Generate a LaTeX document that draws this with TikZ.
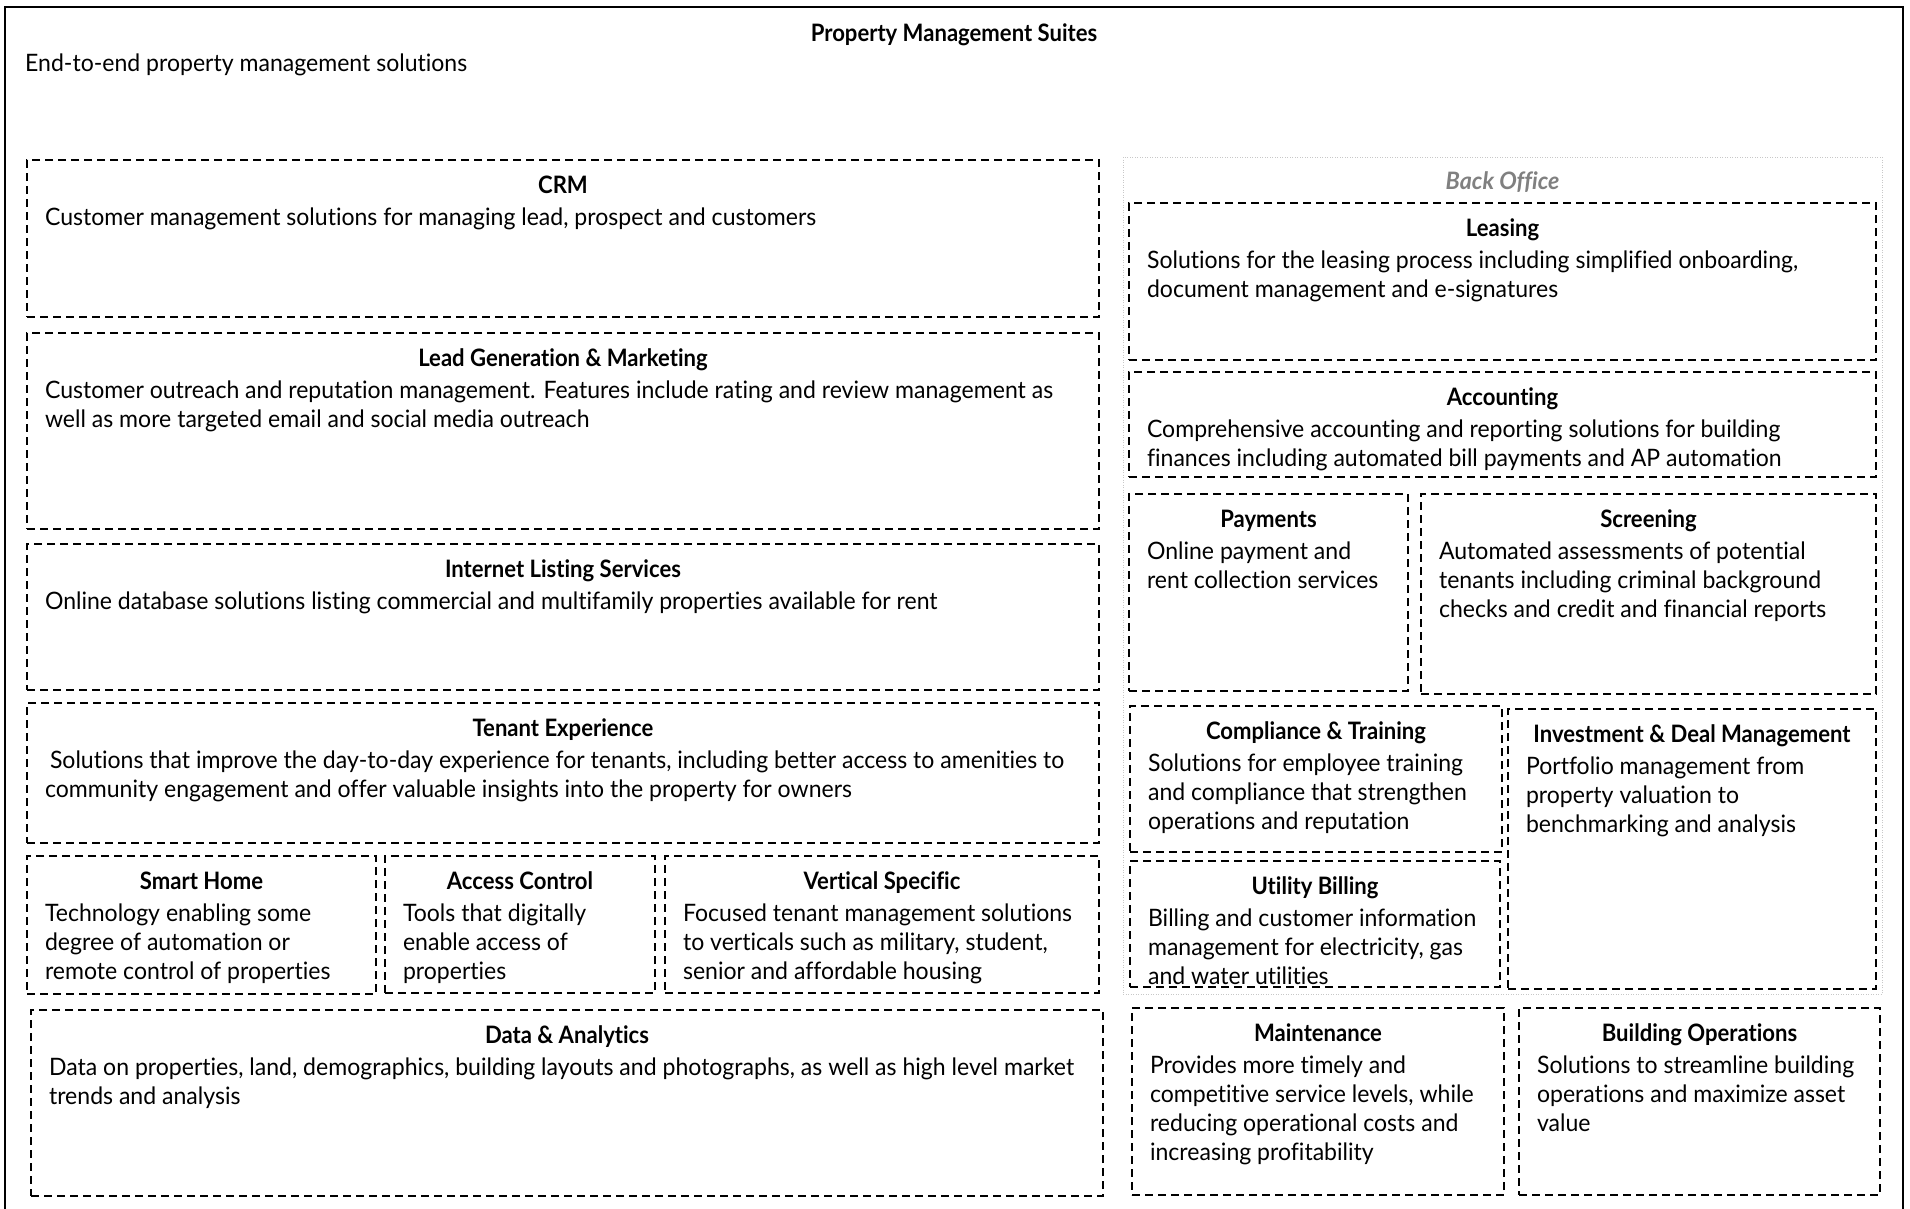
\documentclass[tikz,border=0pt]{standalone}
\usepackage{fontspec}
\setmainfont{Lato}[
  Ligatures=NoCommon,
  FakeStretch=0.96,
  BoldFeatures={FakeStretch=0.92},
  BoldItalicFeatures={FakeStretch=0.97}]
\usetikzlibrary{fit}

\definecolor{groupline}{HTML}{C8C8C8}
\definecolor{grouptext}{HTML}{808080}

\tikzset{
  frame/.style={draw=black, line width=2pt},
  group/.style={draw=groupline, line width=1pt, dash pattern=on 1pt off 1.5pt, inner sep=0pt},
  pbox/.style={draw=black, line width=2.3pt, dash pattern=on 8pt off 5pt, inner sep=0pt},
  ptitle/.style={anchor=base, inner sep=0pt, font=\bfseries\fontsize{24}{29}\selectfont},
  pdesc/.style={anchor=north west, inner sep=0pt, align=left, font=\fontsize{24}{29}\selectfont},
}

% #1 name, #2-#5 corners (x1,y1,x2,y2), #6 heading, #7 description
\newcommand\pmbox[7]{%
  \node[pbox, fit={(#2,#3) (#4,#5)}] (#1) {};
  \node[ptitle] (#1-t) at ([yshift=-35pt]#1.north) {#6};
  \node[pdesc] (#1-d) at ([xshift=19pt,yshift=-46pt]#1.north west) {\rule{0pt}{20pt}#7};
}

\begin{document}
\begin{tikzpicture}[x=1pt,y=-1pt]
\useasboundingbox (0,0) rectangle (1910,1208);

% outer frame (its lower edge runs past the page)
\draw[frame] (5,7) rectangle (1903,1240);

\node[anchor=base, inner sep=0pt, font=\bfseries\fontsize{24}{29}\selectfont] (title) at (954,41) {Property Management Suites};
\node[anchor=base west, inner sep=0pt, font=\fontsize{24}{29}\selectfont] (subtitle) at (25,71) {End-to-end property management solutions};

% left column
\pmbox{crm}{27}{160}{1099}{317}{CRM}{Customer management solutions for managing lead, prospect and customers}
\pmbox{leadgen}{27}{333}{1099}{529}{Lead Generation \& Marketing}{Customer outreach and reputation management. Features include rating and review management as\\well as more targeted email and social media outreach}
\pmbox{listing}{27}{544}{1099}{690}{Internet Listing Services}{Online database solutions listing commercial and multifamily properties available for rent}
\pmbox{tenant}{27}{703}{1099}{843}{Tenant Experience}{\hspace*{5pt}Solutions that improve the day-to-day experience for tenants, including better access to amenities to\\community engagement and offer valuable insights into the property for owners}
\pmbox{smarthome}{27}{856}{376}{994}{Smart Home}{Technology enabling some\\degree of automation or\\remote control of properties}
\pmbox{access}{385}{856}{655}{993}{Access Control}{Tools that digitally\\enable access of\\properties}
\pmbox{vertical}{665}{856}{1099}{993}{Vertical Specific}{Focused tenant management solutions\\to verticals such as military, student,\\senior and affordable housing}
\pmbox{data}{31}{1010}{1103}{1196}{Data \& Analytics}{Data on properties, land, demographics, building layouts and photographs, as well as high level market\\trends and analysis}

% back office group
\node[group, fit={(1123,157) (1882,994)}] (backoffice) {};
\node[anchor=base, inner sep=0pt, text=grouptext, font=\bfseries\itshape\fontsize{24}{29}\selectfont] (backoffice-t) at ([yshift=-33pt]backoffice.north) {Back Office};

\pmbox{leasing}{1129}{203}{1876}{360}{Leasing}{Solutions for the leasing process including simplified onboarding,\\document management and e-signatures}
\pmbox{accounting}{1129}{372}{1876}{477}{Accounting}{Comprehensive accounting and reporting solutions for building\\finances including automated bill payments and AP automation}
\pmbox{payments}{1129}{494}{1408}{691}{Payments}{Online payment and\\rent collection services}
\pmbox{screening}{1421}{494}{1876}{694}{Screening}{Automated assessments of potential\\tenants including criminal background\\checks and credit and financial reports}
\pmbox{compliance}{1130}{706}{1502}{852}{Compliance \& Training}{Solutions for employee training\\and compliance that strengthen\\operations and reputation}
\pmbox{investment}{1508}{709}{1876}{989}{Investment \& Deal Management}{Portfolio management from\\property valuation to\\benchmarking and analysis}
\pmbox{utility}{1130}{861}{1500}{987}{Utility Billing}{Billing and customer information\\management for electricity, gas\\and water utilities}

% bottom right
\pmbox{maintenance}{1132}{1008}{1504}{1195}{Maintenance}{Provides more timely and\\competitive service levels, while\\reducing operational costs and\\increasing profitability}
\pmbox{buildingops}{1519}{1008}{1880}{1195}{Building Operations}{Solutions to streamline building\\operations and maximize asset\\value}
\end{tikzpicture}
\end{document}
